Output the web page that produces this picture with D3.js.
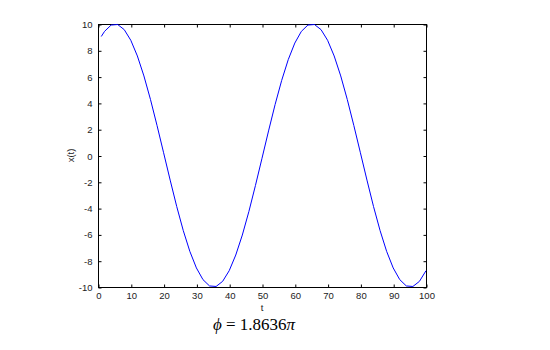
<!DOCTYPE html>
<html>
<head>
<meta charset="utf-8">
<script src="https://cdn.jsdelivr.net/npm/d3@7"></script>
<style>
  html, body { margin: 0; padding: 0; background: #fff; }
  svg { display: block; }
</style>
</head>
<body>
<svg width="550" height="350"></svg>
<script>
// values
const tValues = [1, 2, 4, 6, 8, 10, 12, 14, 16, 18, 20, 22, 24, 26, 28, 30, 32, 34, 36, 38,
    40, 42, 44, 46, 48, 50, 52, 54, 56, 58, 60, 62, 64, 66, 68, 70, 72, 74, 76, 78,
    80, 82, 84, 86, 88, 90, 92, 94, 96, 98, 100]
const xValues = [9.05, 9.44, 9.92, 9.96, 9.57, 8.76, 7.57, 6.05, 4.26, 2.28, 0.21, -1.87, -3.88, -5.71, -7.29, -8.55, -9.44, -9.92, -9.96, -9.57,
    -8.76, -7.57, -6.05, -4.26, -2.28, -0.21, 1.87, 3.88, 5.71, 7.29, 8.55, 9.44, 9.92, 9.96, 9.57, 8.76, 7.57, 6.05, 4.26, 2.28,
    0.21, -1.87, -3.88, -5.71, -7.29, -8.55, -9.44, -9.92, -9.96, -9.57, -8.76]
const xTicks = [0, 10, 20, 30, 40, 50, 60, 70, 80, 90, 100]
const yTicks = [-10, -8, -6, -4, -2, 0, 2, 4, 6, 8, 10]

const svg = d3.select("svg")
const plotLeft = 98, plotRight = 426, plotTop = 24, plotBottom = 287
const font = "'Liberation Sans', Arial, sans-serif"

const xScale = d3.scaleLinear().domain([0, 100]).range([plotLeft, plotRight])
const yScale = d3.scaleLinear().domain([-10, 10]).range([plotBottom, plotTop])

// frame
svg.append("rect")
    .attr("x", plotLeft + 0.5).attr("y", plotTop + 0.5)
    .attr("width", plotRight - plotLeft).attr("height", plotBottom - plotTop)
    .attr("fill", "white").attr("stroke", "black").attr("stroke-width", 1)

const tickLen = 3
const plain = d => String(d)   // hyphen minus like matlab

const xAxis = svg.append("g")
    .attr("transform", `translate(0.5, ${plotBottom + 0.5})`)
    .call(d3.axisBottom(xScale).tickValues(xTicks).tickFormat(plain).tickSizeInner(-tickLen).tickSizeOuter(0).tickPadding(5))
const xAxisTop = svg.append("g")
    .attr("transform", `translate(0.5, ${plotTop + 0.5})`)
    .call(d3.axisTop(xScale).tickValues(xTicks).tickSizeInner(-tickLen).tickSizeOuter(0).tickFormat(""))
const yAxis = svg.append("g")
    .attr("transform", `translate(${plotLeft + 0.5}, 0.5)`)
    .call(d3.axisLeft(yScale).tickValues(yTicks).tickFormat(plain).tickSizeInner(-tickLen).tickSizeOuter(0).tickPadding(6))
const yAxisRight = svg.append("g")
    .attr("transform", `translate(${plotRight + 0.5}, 0.5)`)
    .call(d3.axisRight(yScale).tickValues(yTicks).tickSizeInner(-tickLen).tickSizeOuter(0).tickFormat(""))

for (const g of [xAxis, xAxisTop, yAxis, yAxisRight]) {
    g.select(".domain").remove()
    g.selectAll("line").attr("stroke", "black")
    g.selectAll("text")
        .attr("font-family", font)
        .attr("font-size", "9.5px")
        .attr("fill", "#222")
}

// curve
const line = d3.line()
    .x((d, i) => xScale(tValues[i]))
    .y(d => yScale(d))

svg.append("path")
    .datum(xValues)
    .attr("d", line)
    .attr("fill", "none")
    .attr("stroke", "#0000ff")
    .attr("stroke-width", 1)

// labels
svg.append("text")
    .attr("x", xScale(50)).attr("y", 311)
    .attr("text-anchor", "middle")
    .attr("font-family", font).attr("font-size", "9.5px")
    .attr("fill", "#222")
    .text("t")

svg.append("text")
    .attr("transform", `translate(74, ${yScale(0)}) rotate(-90)`)
    .attr("text-anchor", "middle")
    .attr("font-family", font).attr("font-size", "9.5px")
    .attr("fill", "#222")
    .text("x(t)")

const formula = svg.append("text")
    .attr("x", 254).attr("y", 330)
    .attr("text-anchor", "middle")
    .attr("font-family", "'Liberation Serif', 'Times New Roman', serif")
    .attr("font-size", "17px")
    .attr("fill", "black")
formula.append("tspan").attr("font-style", "italic").text("\u03d5")
formula.append("tspan").text(" = 1.8636")
formula.append("tspan").attr("font-style", "italic").text("\u03c0")
</script>
</body>
</html>
